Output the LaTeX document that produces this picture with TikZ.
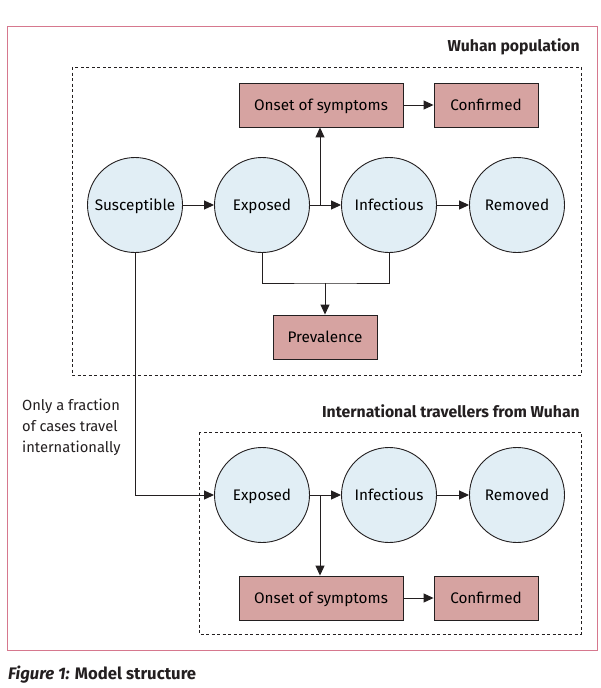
\documentclass[tikz,border=0pt]{standalone}
\usepackage{fontspec}
\setmainfont{Fira Sans}
\usetikzlibrary{arrows.meta}
\definecolor{framec}{RGB}{214,120,142}
\definecolor{boxfill}{RGB}{214,163,161}
\definecolor{circfill}{RGB}{225,238,245}
\definecolor{ink}{RGB}{35,31,32}
\begin{document}
\begin{tikzpicture}[x=1pt,y=-1pt,
 state/.style={circle, draw=ink, fill=circfill, line width=0.9pt, minimum size=95pt, inner sep=0pt, text height=12.5pt, text depth=1.5pt, font=\fontsize{15.3}{17}\selectfont},
 obs/.style={rectangle, draw=ink, fill=boxfill, line width=0.9pt, minimum height=44pt, inner sep=0pt, text height=12.5pt, text depth=1.5pt, font=\fontsize{15.3}{17}\selectfont},
 arr/.style={-{Triangle[length=10pt,width=9pt]}, draw=ink, line width=1pt},
 ln/.style={draw=ink, line width=1pt},
 dbox/.style={draw=ink, line width=0.8pt, dash pattern=on 3pt off 2.5pt},
 title/.style={font=\fontsize{15.8}{18}\selectfont\bfseries, inner sep=0pt, text=ink},
 plain/.style={font=\fontsize{14.7}{21}\selectfont, inner sep=0pt, text=ink}]
\useasboundingbox (0,0) rectangle (600,688);
\fill[white] (0,0) rectangle (600,688);
\draw[framec, line width=1pt] (7,26) rectangle (597,650);

% Wuhan population
\node[title, anchor=base east] (t1) at (580,51) {Wuhan population};
\draw[dbox] (72,67) rectangle (581,375);
\node[obs, minimum width=164pt] (on1) at (321,105) {Onset of symptoms};
\node[obs, minimum width=104pt] (cf1) at (486,105) {Confirmed};
\node[state] (sus) at (135,205) {Susceptible};
\node[state] (ex1) at (262,205) {Exposed};
\node[state] (in1) at (389,205) {Infectious};
\node[state] (rm1) at (517,205) {Removed};
\node[obs, minimum width=104pt] (prev) at (325,337) {Prevalence};
\coordinate (j1) at (320,205);
\coordinate (pj) at (325,283);

\draw[arr] (sus) -- (ex1);
\draw[arr] (ex1) -- (in1);
\draw[arr] (in1) -- (rm1);
\draw[arr] (j1) -- (j1 |- on1.south);
\draw[arr] (on1) -- (cf1);
\draw[ln] (ex1.south) |- (pj) -| (in1.south);
\draw[arr] (pj) -- (prev);

% International travellers
\node[plain, anchor=north west, align=left] (note) at (22,399) {Only a fraction\\of cases travel\\internationally};
\node[title, anchor=base east] (t2) at (580,417) {International travellers from Wuhan};
\draw[dbox] (199,432) rectangle (581,634);
\node[state] (ex2) at (262,495) {Exposed};
\node[state] (in2) at (389,495) {Infectious};
\node[state] (rm2) at (517,495) {Removed};
\node[obs, minimum width=164pt] (on2) at (321,598) {Onset of symptoms};
\node[obs, minimum width=104pt] (cf2) at (486,598) {Confirmed};
\coordinate (j2) at (320,495);

\draw[arr] (sus.south) |- (ex2.west);
\draw[arr] (ex2) -- (in2);
\draw[arr] (in2) -- (rm2);
\draw[arr] (j2) -- (j2 |- on2.north);
\draw[arr] (on2) -- (cf2);

% caption
\node[anchor=base west, inner sep=0pt, text=ink, font=\fontsize{16.7}{20}\selectfont\bfseries] (cap) at (8,679) {\textit{Figure 1:} Model structure};
\end{tikzpicture}
\end{document}
